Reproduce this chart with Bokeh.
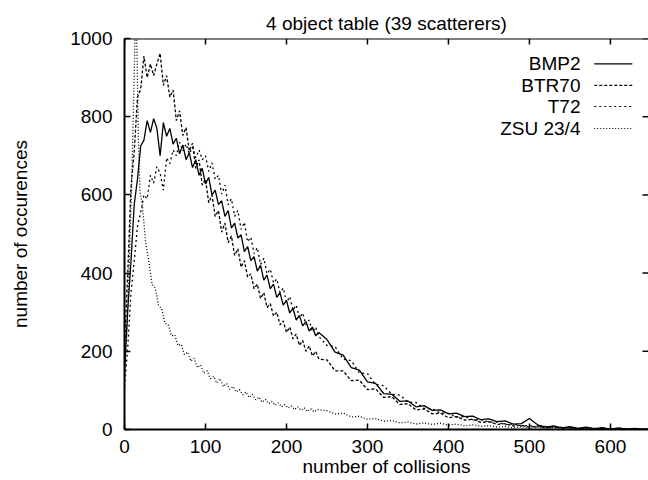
from bokeh.plotting import figure
from bokeh.models import Range1d, Span
from bokeh.embed import file_html
from bokeh.resources import INLINE
from bokeh.core.properties import value

# ---------------- data ----------------
x_fine = list(range(0, 244, 4))        # 0 .. 240, step 4
x_coarse = list(range(250, 660, 10))   # 250 .. 650, step 10
x_common = x_fine + x_coarse
zsu_x = [0, 3, 6, 9, 11, 13, 14, 15, 17, 19] + list(range(22, 242, 4)) + x_coarse

bmp2 = [
    150, 305, 430, 575, 640, 725, 740, 790, 760, 795,
    770, 700, 785, 750, 770, 730, 745, 705, 728, 690,
    708, 670, 690, 650, 668, 628, 645, 600, 612, 575,
    585, 545, 560, 515, 528, 490, 498, 455, 468, 432,
    442, 405, 420, 382, 395, 360, 372, 338, 350, 318,
    330, 298, 310, 280, 292, 265, 276, 252, 262, 240,
    248,
    230, 198, 190, 158, 152, 122, 118, 92, 90, 72,
    73, 58, 61, 49, 50, 40, 42, 33, 34, 25,
    27, 20, 22, 14, 15, 28, 12, 6, 9, 4,
    7, 3, 6, 2, 5, 1, 4, 1, 3, 1,
    1,
]
btr70 = [
    210, 400, 620, 710, 850, 870, 955, 900, 935, 905,
    935, 962, 880, 905, 850, 868, 790, 815, 752, 772,
    712, 732, 668, 690, 625, 640, 580, 600, 545, 560,
    505, 528, 478, 495, 445, 462, 415, 432, 390, 398,
    360, 372, 335, 350, 312, 322, 290, 300, 268, 278,
    248, 262, 232, 244, 215, 228, 200, 214, 188, 200,
    180,
    178, 150, 150, 125, 126, 102, 104, 82, 84, 64,
    66, 50, 53, 40, 42, 30, 33, 24, 26, 18,
    20, 13, 15, 9, 11, 6, 9, 4, 7, 3,
    5, 2, 4, 1, 3, 1, 2, 0, 2, 0,
    1,
]
t72 = [
    110, 210, 350, 430, 520, 555, 600, 590, 650, 630,
    672, 655, 612, 695, 680, 715, 700, 735, 712, 730,
    705, 722, 695, 715, 690, 700, 660, 682, 640, 650,
    602, 625, 575, 590, 545, 560, 512, 530, 480, 492,
    450, 465, 422, 438, 398, 410, 375, 385, 350, 362,
    325, 340, 305, 318, 285, 298, 268, 280, 250, 262,
    238,
    215, 212, 180, 176, 145, 143, 115, 112, 90, 88,
    70, 69, 54, 53, 42, 41, 32, 33, 25, 25,
    19, 19, 13, 14, 9, 10, 6, 8, 4, 6,
    3, 4, 2, 3, 1, 3, 1, 2, 1, 1,
    0,
]
zsu234 = [
    120, 260, 430, 640, 820, 1000, 1080, 1020, 760, 610,
    575, 480, 430, 372, 362, 318, 308, 272, 268, 240,
    242, 215, 218, 192, 198, 175, 182, 158, 165, 144,
    150, 130, 136, 119, 130, 110, 118, 103, 110, 96,
    102, 89, 96, 82, 90, 76, 83, 70, 77, 66,
    72, 62, 68, 58, 64, 55, 60, 51, 58, 49,
    55, 46, 53, 45, 51,
    48, 40, 42, 32, 34, 26, 28, 21, 23, 17,
    19, 14, 17, 13, 16, 11, 14, 9, 12, 8,
    10, 6, 8, 4, 7, 3, 6, 2, 5, 2,
    4, 1, 3, 1, 3, 1, 2, 1, 2, 0,
    1,
]

names = ["BMP2", "BTR70", "T72", "ZSU 23/4"]
x_ticks = [0, 100, 200, 300, 400, 500, 600]
y_ticks = [0, 200, 400, 600, 800, 1000]

# ---------------- styling ----------------
FONT = "Liberation Sans"
FS = "19px"
dashes = ["solid", "3 2", "2 3", "1 2"]
X_MAX, Y_MAX = 647, 1000
FRAME_W, FRAME_H = 524, 391
TICK_PX = 6
LW = 1.3

p = figure(
    frame_width=FRAME_W, frame_height=FRAME_H,
    x_range=Range1d(0, X_MAX), y_range=Range1d(0, Y_MAX),
    output_backend="svg", toolbar_location=None,
    min_border_left=124, min_border_right=0,
    min_border_top=38, min_border_bottom=51,
    title="4 object table (39 scatterers)",
)
p.background_fill_color = "white"
p.border_fill_color = "white"
p.outline_line_color = None
p.xgrid.visible = False
p.ygrid.visible = False

p.title.align = "center"
p.title.vertical_align = "top"
p.title.text_font = FONT
p.title.text_font_size = FS
p.title.text_font_style = "normal"
p.title.text_color = "black"
p.title.standoff = 6

xa = p.below[0]
ya = p.left[0]
xa.ticker = x_ticks
ya.ticker = y_ticks
for ax in (xa, ya):
    ax.major_tick_in = TICK_PX
    ax.major_tick_out = 0
    ax.major_tick_line_width = 1.5
    ax.major_tick_line_color = "black"
    ax.minor_tick_line_color = None
    ax.axis_line_width = 2
    ax.major_label_text_font = FONT
    ax.major_label_text_color = "black"
    ax.major_label_text_font_size = FS
    ax.axis_label_text_font = FONT
    ax.axis_label_text_font_style = "normal"
    ax.axis_label_text_color = "black"
    ax.axis_label_text_font_size = FS
xa.major_label_standoff = 10
ya.major_label_standoff = 12
xa.axis_label = "number of collisions"
ya.axis_label = "number of occurences"
xa.axis_label_standoff = 0
ya.axis_label_standoff = 36

# top border and mirrored ticks (top and right), gnuplot style
p.add_layout(Span(location=Y_MAX, dimension="width", line_color="black", line_width=2))
dy = TICK_PX * Y_MAX / FRAME_H
dx = TICK_PX * X_MAX / FRAME_W
p.segment(x0=x_ticks, y0=[Y_MAX] * len(x_ticks), x1=x_ticks, y1=[Y_MAX - dy] * len(x_ticks),
          line_color="black", line_width=1.5)
p.segment(x0=[X_MAX] * len(y_ticks), y0=y_ticks, x1=[X_MAX - dx] * len(y_ticks), y1=y_ticks,
          line_color="black", line_width=1.5)

# ---------------- curves ----------------
series = [(x_common, bmp2), (x_common, btr70), (x_common, t72), (zsu_x, zsu234)]
for (xs, ys), d in zip(series, dashes):
    p.line(xs, ys, line_color="black", line_width=LW, line_dash=d)

# ---------------- gnuplot-style key (text left of sample) ----------------
key_y = [935, 880, 826, 770]
p.text(x=[563] * 4, y=key_y, text=names, text_align="right", text_baseline="middle",
       text_font=value(FONT), text_font_size=FS, text_color="black")
for yy, d in zip(key_y, dashes):
    p.segment(x0=[580], y0=[yy], x1=[627], y1=[yy], line_color="black", line_width=1.1, line_dash=d)

open("out.html", "w").write(file_html(p, INLINE))
